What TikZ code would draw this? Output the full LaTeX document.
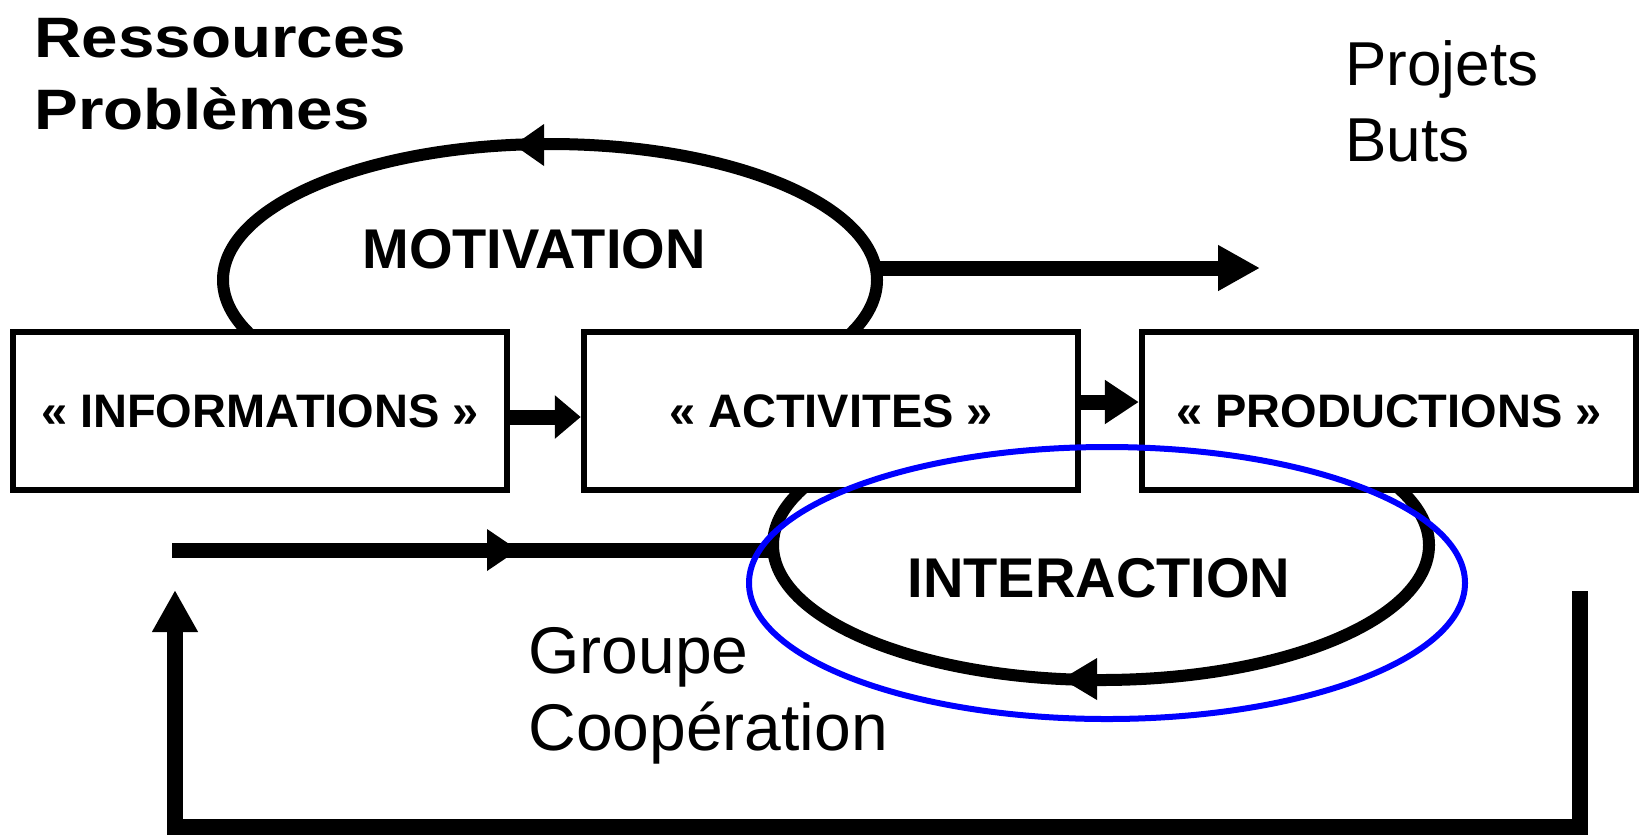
\documentclass[tikz,border=0pt]{standalone}
\usepackage{fontspec}
\setmainfont{Liberation Sans}
\usepackage{graphicx}
\usetikzlibrary{arrows.meta}
\definecolor{hlblue}{RGB}{0,0,255}
\begin{document}
\begin{tikzpicture}[x=0.5pt,y=-0.5pt,
  boxnode/.style={draw, line width=3.25pt, fill=white, minimum width=247pt, minimum height=79pt, inner sep=0pt, font=\bfseries\fontsize{23.5}{28}\selectfont},
  cyclepath/.style={line width=6pt},
  fatline/.style={line width=7.5pt},
  headmark/.style={fill=black},
  ltxt/.style={inner sep=0pt, anchor=base west},
  ctxt/.style={inner sep=0pt, anchor=base},
  bigbold/.style={font=\bfseries\fontsize{28.5}{30}\selectfont},
  bigreg/.style={font=\fontsize{31}{34}\selectfont},
  midreg/.style={font=\fontsize{33}{36}\selectfont},
  loopbold/.style={font=\bfseries\fontsize{28}{30}\selectfont}
]
\useasboundingbox (0,0) rectangle (1642,837);

% loops (clipped where they meet the boxes)
\begin{scope}
  \clip (0,0) rectangle (1642,334);
  \draw[cyclepath] (550,280) ellipse [x radius=163.5pt, y radius=68pt];
\end{scope}
\fill[headmark] (514,145) -- (544,124) -- (544,166) -- cycle;

\begin{scope}
  \clip (0,488) rectangle (1642,837);
  \draw[cyclepath] (1101,545) ellipse [x radius=164pt, y radius=67.5pt];
\end{scope}
\fill[headmark] (1062,679) -- (1097,658) -- (1097,700) -- cycle;

% boxes
\node[boxnode] (info) at (260,411) {« INFORMATIONS »};
\node[boxnode] (act) at (831,411) {« ACTIVITES »};
\node[boxnode] (prod) at (1389,411) {« PRODUCTIONS »};

% labels
\node[ltxt,bigbold] (res) at (34,57) {\scalebox{1.15}[1]{Ressources}};
\node[ltxt,bigbold] (prob) at (34,129) {\scalebox{1.15}[1]{Problèmes}};
\node[ltxt,bigreg] (proj) at (1345,85) {Projets};
\node[ltxt,bigreg] (buts) at (1345,161) {Buts};
\node[ltxt,midreg] (grp) at (528,673) {Groupe};
\node[ltxt,midreg] (coop) at (528,750) {Coopération};
\node[ctxt,loopbold] (mot) at (534,268) {MOTIVATION};
\node[ctxt,loopbold] (inter) at (1099,597) {INTERACTION};

% box arrows
\draw[fatline, -{Triangle[length=13pt,width=21pt]}] ([yshift=-3pt]info.east) -- ([yshift=-3pt]act.west);
\draw[fatline, -{Triangle[length=17pt,width=21pt]}] ([yshift=4.5pt]act.east) -- ([yshift=4.5pt]prod.west);

% motivation outgoing arrow
\coordinate (motR) at (877,268);
\coordinate (goal) at (1260,268);
\draw[fatline, -{Triangle[length=21pt,width=21.5pt]}] (motR) -- (goal);

% input line into interaction
\coordinate (lstart) at (172,550);
\coordinate (lend) at (776,550);
\draw[fatline] (lstart) -- (lend);
\fill[headmark] (518,550) -- (487,529) -- (487,571) -- cycle;

% feedback loop
\coordinate (fbA) at (1580,591);
\coordinate (fbC) at (1580,827);
\coordinate (fbD) at (175,827);
\coordinate (fbB) at (175,590);
\draw[line width=8pt, -{Triangle[length=21pt,width=21.5pt]}] (fbA) -- (fbC) -- (fbD) -- (fbB);

% highlight
\draw[line width=3pt, hlblue] (1107,583) ellipse [x radius=179pt, y radius=68pt];
\end{tikzpicture}
\end{document}
